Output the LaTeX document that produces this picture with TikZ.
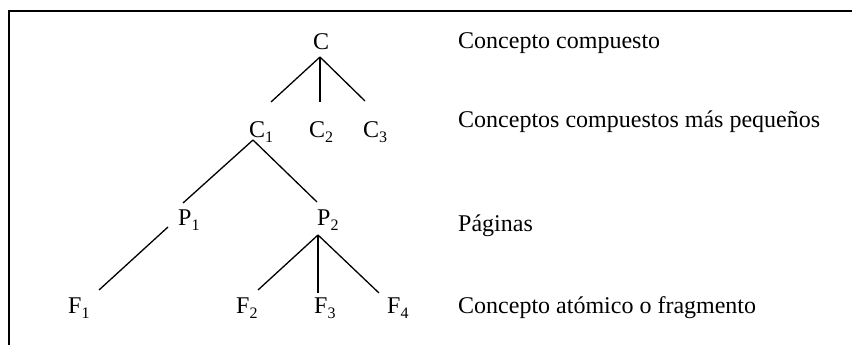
\documentclass[tikz,border=0pt]{standalone}
\usepackage{fontspec}
\setmainfont{Liberation Serif}
\newcommand{\sbx}[1]{\raisebox{-5pt}{\fontsize{16}{16}\selectfont #1}}
\begin{document}
\begin{tikzpicture}[x=1pt,y=-1pt,
  lbl/.style={inner sep=0pt,anchor=base west,font=\fontsize{24}{28}\selectfont},
  edge/.style={line width=1.3pt},
  frame/.style={line width=1.8pt}]
\useasboundingbox[fill=white] (0,0) rectangle (852,345);
% frame
\coordinate (fr) at (852,11);
\coordinate (fc) at (9,11);
\coordinate (fb) at (9,345);
\draw[frame] (fr) -- (fc) -- (fb);
% tree labels
\node[lbl] (C)  at (313,50) {C};
\node[lbl] (C1) at (249,137) {C\sbx{1}};
\node[lbl] (C2) at (309,137) {C\sbx{2}};
\node[lbl] (C3) at (363,137) {C\sbx{3}};
\node[lbl] (P1) at (178,225) {P\sbx{1}};
\node[lbl] (P2) at (317,225) {P\sbx{2}};
\node[lbl] (F1) at (68,313) {F\sbx{1}};
\node[lbl] (F2) at (236,313) {F\sbx{2}};
\node[lbl] (F3) at (314,313) {F\sbx{3}};
\node[lbl] (F4) at (387,313) {F\sbx{4}};
% right labels
\node[lbl] (t1) at (458,49) {Concepto compuesto};
\node[lbl] (t2) at (458,128) {Conceptos compuestos más pequeños};
\node[lbl] (t3) at (458,231) {Páginas};
\node[lbl] (t4) at (458,313) {Concepto atómico o fragmento};
% connector end points
\coordinate (ca) at (320,57);
\coordinate (c1t) at (271,102);
\coordinate (c2t) at (320,102);
\coordinate (c3t) at (365,101);
\coordinate (c1a) at (253,140);
\coordinate (p1t) at (183,203);
\coordinate (p2t) at (317,202);
\coordinate (p1a) at (168,227);
\coordinate (f1t) at (99,290);
\coordinate (p2a) at (318,235);
\coordinate (f2t) at (258,290);
\coordinate (f3t) at (318,293);
\coordinate (f4t) at (379,293);
\draw[edge] (ca) -- (c1t);
\draw[edge] (ca) -- (c2t);
\draw[edge] (ca) -- (c3t);
\draw[edge] (c1a) -- (p1t);
\draw[edge] (c1a) -- (p2t);
\draw[edge] (p1a) -- (f1t);
\draw[edge] (p2a) -- (f2t);
\draw[edge] (p2a) -- (f3t);
\draw[edge] (p2a) -- (f4t);
\end{tikzpicture}
\end{document}
